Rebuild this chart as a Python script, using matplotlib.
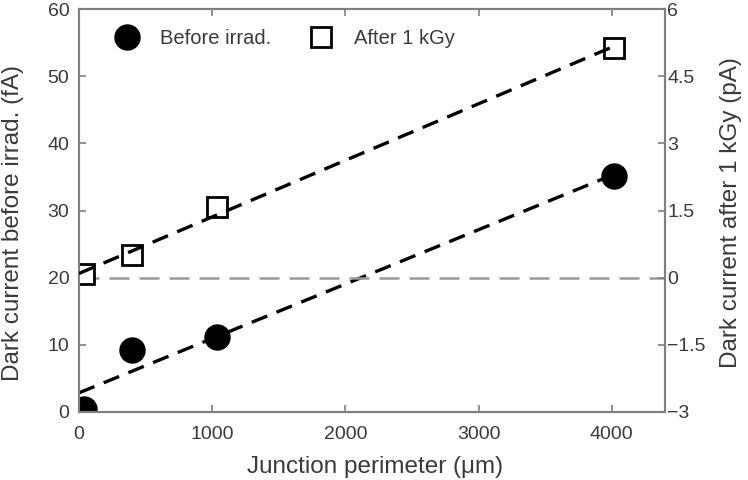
import numpy as np
import matplotlib
matplotlib.use("Agg")
import matplotlib.pyplot as plt

plt.rcParams["font.family"] = ["Liberation Sans", "DejaVu Sans"]

# junction perimeter (um)
perimeter = [40, 400, 1040, 4015]
# dark current before irradiation (fA), left axis
before_fa = [0.4, 9.2, 11.2, 35.1]
# dark current after 1 kGy (pA), right axis
after_pa = [0.09, 0.51, 1.59, 5.13]

left_ticks = [0, 10, 20, 30, 40, 50, 60]
right_ticks = [-3, -1.5, 0, 1.5, 3, 4.5, 6]
right_labels = ["\u22123", "\u22121.5", "0", "1.5", "3", "4.5", "6"]
x_ticks = [0, 1000, 2000, 3000, 4000]

spine_col = "#808080"
text_col = "#3a3a3a"

fig = plt.figure(figsize=(7.48, 4.8), dpi=100)
ax = fig.add_axes([0.1056, 0.1417, 0.7834, 0.8393])
ax2 = ax.twinx()

ax.set_xlim(0, 4400)
ax.set_ylim(0, 60)
ax2.set_ylim(-3, 6)

x = np.array(perimeter, dtype=float)
xfit = np.array([0, x.max()])

# linear fits through each series
pb = np.polyfit(x, before_fa, 1)
pa = np.polyfit(x, after_pa, 1)

ax2.axhline(0, color="#999999", lw=1.8, ls=(0, (8, 4)), zorder=1)

ax.plot(perimeter, before_fa, "o", ms=18, color="black", zorder=2,
        label="Before irrad.")
ax2.plot(perimeter, after_pa, "s", ms=14, mfc="white", mec="black", mew=2,
         zorder=2, label="After 1 kGy")

ax.plot(xfit, np.polyval(pb, xfit), color="black", lw=2.4,
        ls=(0, (5, 3)), zorder=3)
ax2.plot(xfit, np.polyval(pa, xfit), color="black", lw=2.4,
         ls=(0, (5, 3)), zorder=3)

for a in (ax, ax2):
    for s in a.spines.values():
        s.set_color(spine_col)
        s.set_linewidth(1.5)

ax.set_xticks(x_ticks)
ax.set_yticks(left_ticks)
ax2.set_yticks(right_ticks)
ax2.set_yticklabels(right_labels)

ax.tick_params(axis="both", direction="in", length=5, width=1.2, color=spine_col,
               labelcolor=text_col, labelsize=14, top=True)
ax.tick_params(axis="x", pad=10)
ax.tick_params(axis="y", pad=7)
ax2.tick_params(axis="y", direction="in", length=5, width=1.2, color=spine_col,
                labelcolor=text_col, labelsize=14, pad=1.5)

ax.set_xlabel("Junction perimeter (\u03bcm)", color=text_col, fontsize=17.5)
ax.set_ylabel("Dark current before irrad. (fA)", color=text_col, fontsize=17.5)
ax2.set_ylabel("Dark current after 1 kGy (pA)", color=text_col, fontsize=17.5)
ax.xaxis.set_label_coords(0.505, -0.11)
ax.yaxis.set_label_coords(-0.094, 0.469)
ax2.yaxis.set_label_coords(1.094, 0.494)

h1, l1 = ax.get_legend_handles_labels()
h2, l2 = ax2.get_legend_handles_labels()
leg = ax2.legend(h1 + h2, l1 + l2, loc="upper left", ncol=2, frameon=False,
                 fontsize=14.5, bbox_to_anchor=(0.023, 0.995),
                 handletextpad=0.85, columnspacing=1.65, handlelength=1.6)
for t in leg.get_texts():
    t.set_color(text_col)

fig.savefig("out.png", dpi=100)
